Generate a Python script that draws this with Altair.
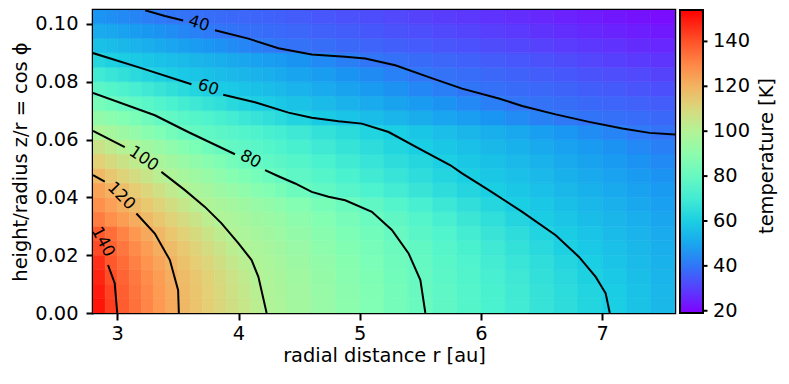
import altair as alt
import pandas as pd

# ---------------- data ----------------
# cell centres: fine columns (0.1 au) on the steep inner part, coarse (0.2 au) outside
R_FINE = [2.85, 2.95, 3.05, 3.15, 3.25, 3.35, 3.45, 3.55, 3.65, 3.75, 3.85, 3.95, 4.05, 4.15, 4.25, 4.35]
R_COARSE = [4.5, 4.7, 4.9, 5.1, 5.3, 5.5, 5.7, 5.9, 6.1, 6.3, 6.5, 6.7, 6.9, 7.1, 7.3, 7.5]
Z_CENTERS = [0.0025, 0.0075, 0.0125, 0.0175, 0.0225, 0.0275, 0.0325, 0.0375,
             0.0425, 0.0475, 0.0525, 0.0575, 0.0625, 0.0675, 0.0725, 0.0775,
             0.0825, 0.0875, 0.0925, 0.0975, 0.1025]

# temperature [K], one list per height row: first the 16 fine columns, then the 16 coarse ones
T_Z0025 = [150.5, 143.5, 138.0, 134.1, 130.1, 126.2, 122.2, 118.8, 116.0, 113.2, 110.4, 107.7, 104.9, 102.1, 99.6, 98.1,
           95.8, 92.8, 89.7, 86.7, 83.6, 80.6, 77.9, 75.2, 72.6, 70.0, 67.3, 64.7, 62.0, 59.4, 56.9, 54.3]
T_Z0075 = [149.2, 142.6, 137.6, 133.7, 129.8, 125.9, 122.0, 118.6, 115.7, 112.9, 110.0, 107.1, 104.3, 101.4, 99.2, 97.7,
           95.5, 92.4, 89.4, 86.4, 83.3, 80.3, 77.6, 74.9, 72.3, 69.6, 66.9, 64.3, 61.6, 59.0, 56.5, 54.0]
T_Z0125 = [147.6, 140.7, 136.5, 132.7, 128.8, 125.0, 121.2, 118.0, 115.1, 112.2, 109.2, 106.3, 103.3, 100.4, 98.7, 97.2,
           94.9, 91.9, 88.9, 85.9, 82.9, 79.9, 77.1, 74.4, 71.6, 68.9, 66.1, 63.4, 60.6, 58.2, 55.9, 53.5]
T_Z0175 = [146.0, 138.8, 135.0, 131.2, 127.3, 123.5, 119.7, 116.7, 113.6, 110.6, 107.6, 104.5, 101.5, 99.3, 97.8, 96.3,
           94.0, 91.0, 88.1, 85.1, 82.1, 79.1, 76.3, 73.5, 70.6, 67.8, 65.0, 62.1, 59.4, 57.2, 55.0, 52.8]
T_Z0225 = [141.4, 136.9, 132.9, 129.0, 125.1, 121.2, 117.8, 114.7, 111.6, 108.5, 105.4, 102.3, 99.6, 98.2, 96.7, 95.2,
           93.0, 90.0, 87.1, 84.1, 81.2, 78.2, 75.3, 72.3, 69.3, 66.4, 63.4, 60.4, 58.2, 56.2, 54.1, 52.0]
T_Z0275 = [138.8, 134.7, 130.6, 126.5, 122.4, 118.7, 115.5, 112.3, 109.0, 105.8, 102.6, 99.7, 98.2, 96.8, 95.3, 93.8,
           91.6, 88.7, 85.7, 82.8, 79.8, 76.8, 73.7, 70.7, 67.6, 64.6, 61.5, 59.0, 57.0, 55.0, 53.0, 51.0]
T_Z0325 = [131.8, 128.4, 125.1, 121.7, 118.4, 115.2, 111.9, 108.7, 105.5, 102.3, 99.6, 98.1, 96.6, 95.1, 93.6, 92.2,
           89.9, 87.0, 84.0, 81.0, 77.9, 74.8, 71.6, 68.4, 65.2, 62.1, 59.3, 57.4, 55.5, 53.6, 51.7, 49.8]
T_Z0375 = [127.9, 124.6, 121.3, 118.0, 114.8, 111.5, 108.2, 104.9, 101.6, 99.2, 97.6, 96.1, 94.5, 92.9, 91.3, 89.8,
           87.4, 84.3, 81.1, 78.0, 74.8, 71.7, 68.6, 65.5, 62.3, 59.5, 57.7, 55.9, 54.0, 52.2, 50.3, 48.5]
T_Z0425 = [123.9, 120.6, 117.3, 113.9, 110.5, 107.1, 103.7, 100.3, 98.2, 96.3, 94.3, 92.4, 90.4, 88.4, 86.5, 84.5,
           81.6, 78.4, 75.7, 73.0, 70.3, 67.6, 64.9, 62.2, 59.7, 57.9, 56.1, 54.3, 52.5, 50.7, 48.9, 47.1]
T_Z0475 = [118.5, 115.1, 111.7, 108.4, 105.0, 101.7, 98.9, 96.7, 94.6, 92.4, 90.2, 88.0, 85.9, 83.7, 81.5, 79.6,
           77.7, 75.1, 72.5, 69.9, 67.4, 64.8, 62.2, 59.7, 57.9, 56.1, 54.4, 52.6, 50.8, 49.0, 47.2, 45.4]
T_Z0525 = [112.4, 109.3, 106.2, 103.1, 100.0, 97.6, 95.3, 92.9, 90.6, 88.2, 85.9, 83.5, 81.2, 79.4, 78.1, 76.9,
           75.0, 72.5, 69.9, 67.4, 64.9, 62.4, 59.9, 58.1, 56.3, 54.5, 52.7, 50.9, 49.1, 47.3, 45.5, 43.7]
T_Z0575 = [106.1, 103.2, 100.3, 97.8, 95.3, 92.8, 90.3, 87.8, 85.3, 82.8, 80.3, 78.9, 77.6, 76.4, 75.1, 73.9,
           72.0, 69.5, 67.0, 64.5, 62.0, 59.6, 57.9, 56.1, 54.3, 52.5, 50.7, 48.9, 47.2, 45.4, 43.6, 41.8]
T_Z0625 = [99.2, 96.6, 94.0, 91.4, 88.8, 86.2, 83.6, 81.0, 79.3, 78.1, 76.9, 75.6, 74.4, 73.2, 72.0, 70.8,
           69.0, 66.5, 64.1, 61.7, 59.4, 57.5, 55.7, 53.8, 51.9, 50.0, 48.1, 46.2, 44.3, 42.5, 40.6, 39.3]
T_Z0675 = [91.6, 89.3, 87.0, 84.7, 82.3, 80.0, 78.4, 76.8, 75.2, 73.6, 72.0, 70.4, 68.8, 67.2, 65.6, 64.0,
           61.6, 59.1, 57.2, 55.3, 53.5, 51.6, 49.7, 47.9, 46.0, 44.1, 42.2, 40.4, 39.5, 38.8, 38.2, 37.5]
T_Z0725 = [84.1, 82.0, 80.0, 78.1, 76.3, 74.4, 72.6, 70.7, 68.9, 67.0, 65.2, 63.3, 61.5, 59.8, 58.9, 58.0,
           56.6, 54.7, 52.8, 51.0, 49.1, 47.3, 45.4, 43.5, 41.7, 39.9, 39.1, 38.3, 37.5, 36.7, 35.9, 35.1]
T_Z0775 = [76.9, 75.0, 73.2, 71.3, 69.4, 67.6, 65.7, 63.9, 62.0, 60.2, 59.1, 58.2, 57.2, 56.3, 55.4, 54.4,
           53.0, 51.0, 49.1, 47.2, 45.3, 43.4, 41.5, 39.8, 38.9, 38.0, 37.2, 36.3, 35.4, 34.5, 33.6, 32.7]
T_Z0825 = [69.7, 67.8, 65.9, 64.0, 62.1, 60.2, 59.2, 58.2, 57.3, 56.4, 55.5, 54.5, 53.6, 52.7, 51.8, 50.8,
           49.4, 47.6, 45.7, 43.9, 42.0, 40.2, 39.1, 38.2, 37.2, 36.2, 35.2, 34.3, 33.3, 32.3, 31.4, 30.4]
T_Z0875 = [62.5, 60.6, 59.3, 58.4, 57.5, 56.5, 55.6, 54.6, 53.7, 52.7, 51.8, 50.9, 49.9, 49.0, 48.0, 47.1,
           45.7, 43.8, 41.9, 40.0, 39.0, 38.0, 37.0, 36.0, 35.0, 34.0, 33.0, 32.0, 31.0, 30.0, 29.0, 28.0]
T_Z0925 = [56.4, 55.3, 54.2, 53.0, 51.9, 50.8, 49.7, 48.6, 47.4, 46.3, 45.2, 44.1, 42.9, 41.8, 40.7, 39.8,
           39.1, 38.3, 37.4, 36.5, 35.6, 34.7, 33.8, 32.9, 32.0, 31.1, 30.2, 29.3, 28.4, 27.5, 26.6, 25.7]
T_Z0975 = [51.1, 50.0, 48.9, 47.7, 46.6, 45.5, 44.3, 43.2, 42.0, 40.9, 39.9, 39.5, 39.0, 38.5, 38.1, 37.6,
           37.0, 36.0, 35.1, 34.2, 33.3, 32.4, 31.5, 30.6, 29.7, 28.8, 27.9, 26.9, 26.0, 25.1, 24.2, 23.3]
T_Z1025 = [45.8, 44.8, 43.7, 42.7, 41.6, 40.5, 39.8, 39.3, 38.9, 38.4, 37.9, 37.5, 37.0, 36.6, 36.1, 35.7,
           34.9, 34.0, 33.1, 32.2, 31.3, 30.4, 29.5, 28.5, 27.6, 26.7, 25.8, 24.9, 23.9, 23.0, 22.1, 21.2]

T_ROWS = [T_Z0025, T_Z0075, T_Z0125, T_Z0175, T_Z0225, T_Z0275, T_Z0325,
          T_Z0375, T_Z0425, T_Z0475, T_Z0525, T_Z0575, T_Z0625, T_Z0675,
          T_Z0725, T_Z0775, T_Z0825, T_Z0875, T_Z0925, T_Z0975, T_Z1025]

# contour polylines (r, z), split where the inline labels sit
C40A_R = [3.23, 3.393, 3.544];  C40A_Z = [0.1047, 0.1027, 0.1012]
C40B_R = [3.806, 4.081, 4.329, 4.604, 4.88, 5.045, 5.293, 5.569, 5.844, 6.147, 6.34, 6.616, 6.891, 7.166, 7.39, 7.6]
C40B_Z = [0.0978, 0.0949, 0.0916, 0.0894, 0.0886, 0.0880, 0.0857, 0.0816, 0.0776, 0.0742, 0.0716, 0.0687, 0.0661, 0.0638, 0.0623, 0.0617]
C60A_R = [2.8, 3.205, 3.612];  C60A_Z = [0.0899, 0.0846, 0.0791]
C60B_R = [3.874, 4.136, 4.412, 4.604, 4.825, 5.017, 5.238, 5.486, 5.748, 5.844, 6.064, 6.34, 6.616, 6.808, 6.946, 7.028, 7.062]
C60B_Z = [0.0755, 0.0729, 0.0693, 0.0675, 0.0663, 0.0655, 0.0626, 0.0569, 0.0511, 0.0483, 0.0425, 0.0350, 0.0269, 0.0194, 0.0125, 0.0068, 0.0]
C80A_R = [2.8, 3.31, 3.585, 3.971];  C80A_Z = [0.0761, 0.0684, 0.0626, 0.0549]
C80B_R = [4.219, 4.329, 4.467, 4.604, 4.742, 4.88, 5.1, 5.265, 5.403, 5.5, 5.541]
C80B_Z = [0.0494, 0.0473, 0.0448, 0.0419, 0.0402, 0.0390, 0.0350, 0.0287, 0.0206, 0.0114, 0.0]
C100A_R = [2.8, 3.062];  C100A_Z = [0.0630, 0.0574]
C100B_R = [3.364, 3.558, 3.723, 3.86, 4.0, 4.108, 4.164, 4.232]
C100B_Z = [0.0488, 0.0425, 0.0367, 0.0310, 0.0241, 0.0183, 0.0125, 0.0]
C120A_R = [2.8, 2.897];  C120A_Z = [0.0477, 0.0454]
C120B_R = [3.158, 3.31, 3.434, 3.502, 3.508];  C120B_Z = [0.0344, 0.0275, 0.0183, 0.0079, 0.0]
C140B_R = [2.924, 2.979, 3.0];  C140B_Z = [0.0166, 0.0103, 0.0]

LABEL_TEXT = ["40", "60", "80", "100", "120", "140"]
LABEL_R = [3.674, 3.750, 4.100, 3.219, 3.034, 2.883]
LABEL_Z = [0.1001, 0.0780, 0.0532, 0.0534, 0.0405, 0.0246]
LABEL_ANGLE = [17, 18, 28, 34, 45, 62]

X_TICKS = [3, 4, 5, 6, 7]
Y_TICKS = [0.0, 0.02, 0.04, 0.06, 0.08, 0.10]
CBAR_TICKS = [20, 40, 60, 80, 100, 120, 140]
CBAR_TITLE = ["temperature [K]"]

# ---------------- build tables ----------------
DZ = 0.005
cols = [(r, 0.05) for r in R_FINE] + [(r, 0.1) for r in R_COARSE]
cells = []
for z, trow in zip(Z_CENTERS, T_ROWS):
    for (r, hw), t in zip(cols, trow):
        cells.append({"r0": r - hw, "r1": r + hw,
                      "z0": z - DZ / 2, "z1": min(z + DZ / 2, 0.1048),
                      "T": t, "Ts": t})
heat_df = pd.DataFrame(cells)

segs = [("40a", C40A_R, C40A_Z), ("40b", C40B_R, C40B_Z),
        ("60a", C60A_R, C60A_Z), ("60b", C60B_R, C60B_Z),
        ("80a", C80A_R, C80A_Z), ("80b", C80B_R, C80B_Z),
        ("100a", C100A_R, C100A_Z), ("100b", C100B_R, C100B_Z),
        ("120a", C120A_R, C120A_Z), ("120b", C120B_R, C120B_Z),
        ("140b", C140B_R, C140B_Z)]
lrows = []
for name, rs, zs in segs:
    for i, (r, z) in enumerate(zip(rs, zs)):
        lrows.append({"seg": name, "i": i, "r": r, "z": z})
line_df = pd.DataFrame(lrows)

lab_df = pd.DataFrame({"label": LABEL_TEXT, "r": LABEL_R, "z": LABEL_Z, "ang": LABEL_ANGLE})

# ---------------- scales ----------------
TMIN, TMAX = 19.0, 154.0
RAINBOW = ["#8000ff", "#4d4ffc", "#1996f3", "#1acee3", "#4df3ce", "#80ffb4",
           "#b3f396", "#e6ce74", "#ff964f", "#ff4f28", "#ff0000"]
stops = [TMIN + (TMAX - TMIN) * k / (len(RAINBOW) - 1) for k in range(len(RAINBOW))]
cscale = alt.Scale(domain=stops, range=RAINBOW, interpolate="rgb")
# stroke scale (only used to hide hairline seams between cells); domain written
# slightly differently so Vega-Lite does not merge it into the colour legend
sscale = alt.Scale(domain=[s + 1e-6 for s in stops], range=RAINBOW, interpolate="rgb")

xscale = alt.Scale(domain=[2.8, 7.6], nice=False, zero=False)
yscale = alt.Scale(domain=[0.0, 0.1048], nice=False, zero=False)

FONT = "DejaVu Sans"
FS = 19.4
xaxis = alt.Axis(values=X_TICKS, format="d", title="radial distance r [au]",
                 tickSize=7, tickWidth=2, tickColor="black", labelPadding=4,
                 titlePadding=4, domain=False, grid=False,
                 labelFont=FONT, labelFontSize=FS, labelColor="black",
                 titleFont=FONT, titleFontSize=FS, titleFontWeight="normal", titleColor="black")
yaxis = alt.Axis(values=Y_TICKS, format=".2f", title="height/radius z/r = cos ϕ",
                 tickSize=7, tickWidth=2, tickColor="black", labelPadding=8,
                 titlePadding=4, domain=False, grid=False,
                 labelFont=FONT, labelFontSize=FS, labelColor="black",
                 titleFont=FONT, titleFontSize=FS, titleFontWeight="normal", titleColor="black")

heat = alt.Chart(heat_df).mark_rect(clip=True, strokeWidth=0.6).encode(
    x=alt.X("r0:Q", scale=xscale, axis=xaxis),
    x2="r1:Q",
    y=alt.Y("z0:Q", scale=yscale, axis=yaxis),
    y2="z1:Q",
    color=alt.Color("T:Q", scale=cscale, legend=alt.Legend(
        type="gradient", title=None, orient="none", legendX=587, legendY=0,
        direction="vertical", gradientLength=303, gradientThickness=23,
        gradientStrokeColor="black", gradientStrokeWidth=2,
        values=CBAR_TICKS, labelFontSize=FS, labelFont=FONT, labelColor="black",
        labelOffset=10, labelOverlap=False, padding=0)),
    stroke=alt.Stroke("Ts:Q", scale=sscale, legend=None),
)

lines = alt.Chart(line_df).mark_line(color="black", strokeWidth=2, clip=True).encode(
    x=alt.X("r:Q", scale=xscale, axis=xaxis),
    y=alt.Y("z:Q", scale=yscale, axis=yaxis),
    detail="seg:N",
    order="i:Q",
)

labels = alt.Chart(lab_df).mark_text(font=FONT, fontSize=16.5, color="black",
                                     align="center", baseline="middle").encode(
    x=alt.X("r:Q", scale=xscale, axis=xaxis),
    y=alt.Y("z:Q", scale=yscale, axis=yaxis),
    text="label:N",
    angle=alt.Angle("ang:Q", scale=None),
)

cbar_title = alt.Chart(pd.DataFrame({"t": CBAR_TITLE})).mark_text(
    font=FONT, fontSize=FS, color="black", angle=270,
    align="center", baseline="middle"
).encode(x=alt.value(674), y=alt.value(146), text="t:N")

cbar_ticks = alt.Chart(pd.DataFrame({"v": CBAR_TICKS})).mark_rule(
    color="black", strokeWidth=2
).encode(
    x=alt.value(610), x2=alt.value(614.5),
    y=alt.Y("v:Q", scale=alt.Scale(domain=[TMIN, TMAX], nice=False, zero=False), axis=None),
)

chart = alt.layer(
    alt.layer(heat, lines, labels, cbar_title), cbar_ticks
).resolve_scale(y="independent").properties(
    width=582, height=303,
    padding={"left": 2, "top": 2, "right": 2, "bottom": 2}
).configure_view(
    stroke="black", strokeWidth=2.5
)

chart.save("out.html", embed_options={"renderer": "svg", "actions": False})
